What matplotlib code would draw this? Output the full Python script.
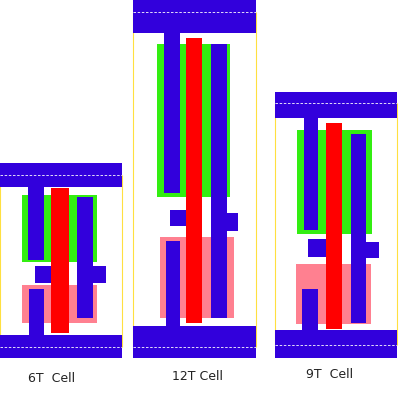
import matplotlib.pyplot as plt
from matplotlib.patches import Rectangle

# ---- Layout data (pixel coords: x0, y0, x1, y1) per cell ----
cells = ["6T  Cell", "12T Cell", "9T  Cell"]
label_pos = [(52, 378), (198, 377), (330, 374)]

frames = [(0, 175, 122, 347), (133, 12, 256, 347), (275, 103, 397, 345)]
top_rails = [(0, 163, 122, 187), (133, 0, 256, 33), (275, 92, 397, 118)]
bottom_rails = [(0, 335, 122, 358), (133, 326, 256, 358), (275, 330, 397, 358)]
greens = [(22, 195, 97, 262), (157, 44, 230, 197), (297, 130, 372, 234)]
pinks = [(22, 285, 97, 323), (160, 237, 234, 318), (296, 264, 371, 324)]
left_bars = [(28, 187, 44, 260), (164, 33, 180, 193), (304, 118, 318, 230)]
right_bars = [(77, 197, 93, 318), (211, 44, 227, 318), (351, 134, 366, 323)]
left_pads = [(35, 266, 55, 283), (170, 210, 189, 226), (308, 239, 328, 257)]
right_pads = [(77, 266, 106, 283), (211, 213, 238, 231), (351, 242, 379, 258)]
bottom_bars = [(29, 289, 44, 335), (166, 241, 180, 326), (302, 289, 318, 330)]
reds = [(51, 188, 69, 333), (186, 38, 202, 323), (326, 123, 342, 329)]

BLUE = '#3200DC'
GREEN = '#33EE11'
PINK = '#FF8090'
RED = '#FF0000'

fig = plt.figure(figsize=(4, 4), dpi=100)
ax = fig.add_axes([0, 0, 1, 1])
ax.set_xlim(0, 400)
ax.set_ylim(400, 0)
ax.axis('off')


def box(r, color, z, **kw):
    x0, y0, x1, y1 = r
    ax.add_patch(Rectangle((x0, y0), x1 - x0, y1 - y0, facecolor=color,
                           edgecolor='none', zorder=z, **kw))


for i in range(len(cells)):
    fx0, fy0, fx1, fy1 = frames[i]
    ax.add_patch(Rectangle((fx0, fy0), fx1 - fx0, fy1 - fy0, facecolor='none',
                           edgecolor='#FFE040', lw=0.8, zorder=1))
    box(greens[i], GREEN, 2)
    box(pinks[i], PINK, 2)
    for r in (top_rails[i], bottom_rails[i], left_bars[i], right_bars[i],
              left_pads[i], right_pads[i], bottom_bars[i]):
        box(r, BLUE, 3)
    box(reds[i], RED, 4)
    # dashed cell boundary lines across the rails
    for y in (fy0, fy1):
        ax.plot([fx0, fx1], [y, y], color='white', ls='--', lw=0.6,
                dashes=(3, 2), zorder=5)
    lx, ly = label_pos[i]
    ax.text(lx, ly, cells[i], ha='center', va='center', fontsize=9,
            color='#222222')

fig.savefig('out.png', dpi=100)
